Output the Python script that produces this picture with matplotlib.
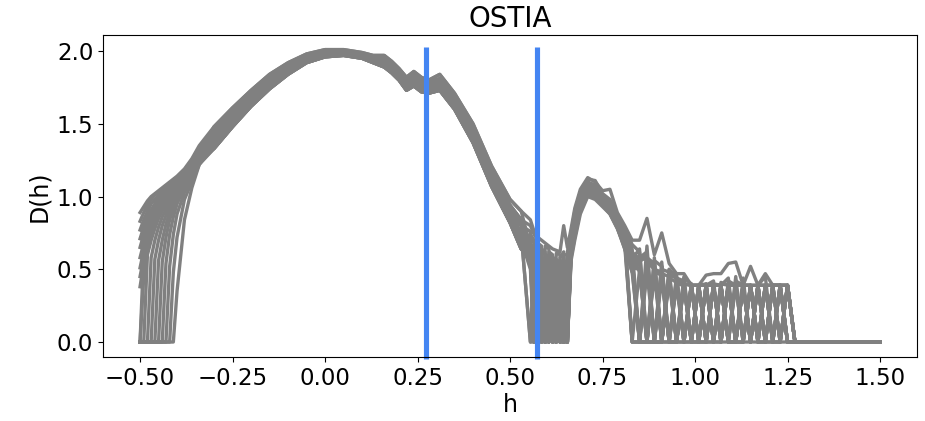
import matplotlib
matplotlib.use("Agg")
import matplotlib.pyplot as plt

# h grid shared by every spectrum, split in four stretches
H_HEAD = [-0.50, -0.49, -0.48, -0.47, -0.46, -0.45, -0.44, -0.43, -0.42, -0.41, -0.40,
          -0.38, -0.36, -0.34]
H_BODY = [-0.30, -0.25, -0.20, -0.15, -0.10, -0.05, 0.00, 0.05, 0.10, 0.13, 0.16, 0.18,
          0.20, 0.22, 0.24, 0.26, 0.28, 0.31, 0.35, 0.40, 0.45, 0.50, 0.53]
H_MID = [0.555, 0.565, 0.575, 0.585, 0.595, 0.605, 0.615, 0.625, 0.635, 0.645, 0.655,
         0.665, 0.675, 0.69, 0.71, 0.73, 0.75, 0.77, 0.79, 0.81, 0.83]
H_TAIL = [0.85, 0.87, 0.89, 0.91, 0.93, 0.95, 0.97, 0.99, 1.01, 1.03, 1.05, 1.07, 1.09,
          1.11, 1.13, 1.15, 1.17, 1.19, 1.21, 1.23, 1.25, 1.27, 1.29, 1.50]

# left part of each D(h) curve
HEAD = [
    [0.89, 0.93, 0.97, 1.00, 1.02, 1.04, 1.06, 1.08, 1.10, 1.12, 1.14, 1.19, 1.26, 1.35],
    [0.83, 0.89, 0.94, 0.98, 1.01, 1.03, 1.05, 1.07, 1.09, 1.11, 1.13, 1.18, 1.25, 1.33],
    [0.77, 0.84, 0.90, 0.95, 0.98, 1.01, 1.03, 1.05, 1.07, 1.09, 1.11, 1.17, 1.24, 1.32],
    [0.71, 0.79, 0.86, 0.91, 0.95, 0.99, 1.01, 1.03, 1.05, 1.07, 1.10, 1.16, 1.23, 1.31],
    [0.65, 0.74, 0.82, 0.88, 0.93, 0.97, 1.00, 1.02, 1.04, 1.06, 1.09, 1.15, 1.22, 1.30],
    [0.58, 0.68, 0.77, 0.84, 0.90, 0.94, 0.98, 1.01, 1.03, 1.05, 1.08, 1.14, 1.21, 1.29],
    [0.51, 0.63, 0.73, 0.81, 0.87, 0.92, 0.96, 0.99, 1.02, 1.04, 1.07, 1.13, 1.20, 1.28],
    [0.45, 0.58, 0.69, 0.78, 0.85, 0.90, 0.95, 0.98, 1.01, 1.03, 1.06, 1.12, 1.19, 1.27],
    [0.38, 0.54, 0.66, 0.75, 0.83, 0.89, 0.94, 0.97, 1.00, 1.03, 1.05, 1.12, 1.19, 1.27],
    [0.00, 0.62, 0.72, 0.80, 0.86, 0.91, 0.95, 0.98, 1.01, 1.03, 1.05, 1.11, 1.18, 1.27],
    [0.00, 0.45, 0.62, 0.72, 0.80, 0.86, 0.91, 0.95, 0.99, 1.02, 1.04, 1.11, 1.18, 1.26],
    [0.00, 0.00, 0.60, 0.70, 0.78, 0.85, 0.90, 0.94, 0.98, 1.01, 1.04, 1.10, 1.17, 1.26],
    [0.00, 0.00, 0.00, 0.58, 0.70, 0.79, 0.86, 0.91, 0.96, 1.00, 1.03, 1.10, 1.17, 1.25],
    [0.00, 0.00, 0.00, 0.00, 0.57, 0.70, 0.80, 0.87, 0.93, 0.98, 1.02, 1.09, 1.16, 1.25],
    [0.00, 0.00, 0.00, 0.00, 0.00, 0.56, 0.70, 0.81, 0.89, 0.95, 1.00, 1.08, 1.15, 1.24],
    [0.00, 0.00, 0.00, 0.00, 0.00, 0.00, 0.55, 0.72, 0.84, 0.92, 0.98, 1.07, 1.14, 1.24],
    [0.00, 0.00, 0.00, 0.00, 0.00, 0.00, 0.00, 0.54, 0.74, 0.86, 0.95, 1.06, 1.13, 1.23],
    [0.00, 0.00, 0.00, 0.00, 0.00, 0.00, 0.00, 0.00, 0.52, 0.74, 0.88, 1.03, 1.12, 1.23],
    [0.00, 0.00, 0.00, 0.00, 0.00, 0.00, 0.00, 0.00, 0.00, 0.48, 0.72, 0.98, 1.10, 1.22],
    [0.00, 0.00, 0.00, 0.00, 0.00, 0.00, 0.00, 0.00, 0.00, 0.00, 0.35, 0.84, 1.06, 1.22],
]

# main arc, six variants from upper to lower edge of the band
BODY_A = [1.48, 1.61, 1.73, 1.84, 1.92, 1.98, 2.01, 2.01, 1.99, 1.97, 1.97, 1.93,
          1.88, 1.82, 1.86, 1.82, 1.80, 1.84, 1.71, 1.50, 1.21, 0.98, 0.90]
BODY_B = [1.45, 1.59, 1.71, 1.82, 1.90, 1.97, 2.00, 2.00, 1.98, 1.96, 1.95, 1.92,
          1.87, 1.80, 1.84, 1.80, 1.79, 1.81, 1.69, 1.47, 1.18, 0.94, 0.84]
BODY_C = [1.42, 1.56, 1.69, 1.80, 1.89, 1.96, 1.99, 2.00, 1.98, 1.95, 1.93, 1.90,
          1.85, 1.79, 1.82, 1.78, 1.77, 1.79, 1.67, 1.45, 1.15, 0.91, 0.80]
BODY_D = [1.39, 1.54, 1.67, 1.78, 1.87, 1.94, 1.98, 1.99, 1.97, 1.94, 1.92, 1.89,
          1.84, 1.77, 1.80, 1.76, 1.75, 1.77, 1.64, 1.42, 1.12, 0.88, 0.75]
BODY_E = [1.36, 1.51, 1.64, 1.76, 1.86, 1.93, 1.97, 1.98, 1.96, 1.93, 1.90, 1.87,
          1.82, 1.75, 1.78, 1.74, 1.73, 1.75, 1.62, 1.40, 1.10, 0.85, 0.70]
BODY_F = [1.33, 1.48, 1.62, 1.74, 1.84, 1.92, 1.96, 1.97, 1.95, 1.92, 1.89, 1.85,
          1.80, 1.73, 1.76, 1.72, 1.71, 1.73, 1.60, 1.37, 1.07, 0.82, 0.64]
BODY = [BODY_A, BODY_B, BODY_C, BODY_D, BODY_E, BODY_F, BODY_A, BODY_B, BODY_C, BODY_D,
        BODY_E, BODY_F, BODY_B, BODY_C, BODY_D, BODY_E, BODY_F, BODY_D, BODY_E, BODY_F]

# dip around h=0.6 and second hump
MID = [
    [0.84, 0.76, 0.72, 0.70, 0.68, 0.66, 0.64, 0.63, 0.62, 0.80, 0.65, 0.78, 0.92, 1.05, 1.13, 1.10, 1.04, 1.05, 0.89, 0.80, 0.70],
    [0.80, 0.74, 0.70, 0.00, 0.66, 0.64, 0.00, 0.61, 0.60, 0.00, 0.62, 0.75, 0.90, 1.03, 1.12, 1.11, 1.02, 0.98, 0.88, 0.78, 0.67],
    [0.76, 0.00, 0.68, 0.66, 0.00, 0.62, 0.60, 0.00, 0.58, 0.62, 0.00, 0.72, 0.88, 1.01, 1.10, 1.08, 1.01, 0.96, 0.87, 0.76, 0.64],
    [0.72, 0.68, 0.00, 0.64, 0.62, 0.00, 0.58, 0.57, 0.00, 0.60, 0.60, 0.70, 0.86, 1.00, 1.09, 1.07, 1.00, 0.95, 0.86, 0.75, 0.62],
    [0.70, 0.00, 0.00, 0.62, 0.60, 0.58, 0.00, 0.56, 0.55, 0.00, 0.58, 0.70, 0.85, 0.99, 1.08, 1.06, 0.99, 0.94, 0.85, 0.74, 0.00],
    [0.68, 0.64, 0.62, 0.00, 0.58, 0.00, 0.56, 0.00, 0.54, 0.56, 0.00, 0.68, 0.84, 0.98, 1.07, 1.05, 0.98, 0.93, 0.84, 0.72, 0.60],
    [0.66, 0.00, 0.60, 0.58, 0.00, 0.55, 0.00, 0.53, 0.00, 0.54, 0.56, 0.62, 0.82, 0.97, 1.06, 1.04, 0.98, 0.92, 0.83, 0.71, 0.58],
    [0.64, 0.60, 0.00, 0.56, 0.00, 0.54, 0.52, 0.00, 0.52, 0.00, 0.55, 0.66, 0.80, 0.96, 1.05, 1.03, 0.97, 0.92, 0.83, 0.70, 0.56],
    [0.62, 0.00, 0.56, 0.00, 0.54, 0.52, 0.00, 0.50, 0.00, 0.52, 0.00, 0.64, 0.80, 0.95, 1.04, 1.02, 0.97, 0.91, 0.82, 0.69, 0.00],
    [0.60, 0.56, 0.00, 0.52, 0.00, 0.50, 0.00, 0.49, 0.50, 0.00, 0.52, 0.60, 0.79, 0.94, 1.03, 1.01, 0.96, 0.91, 0.81, 0.68, 0.55],
    [0.58, 0.00, 0.52, 0.50, 0.00, 0.00, 0.48, 0.00, 0.48, 0.50, 0.00, 0.62, 0.78, 0.93, 1.03, 1.01, 0.96, 0.90, 0.81, 0.67, 0.53],
    [0.56, 0.52, 0.00, 0.48, 0.47, 0.00, 0.46, 0.47, 0.00, 0.48, 0.52, 0.60, 0.76, 0.92, 1.02, 1.00, 0.95, 0.90, 0.80, 0.66, 0.00],
    [0.54, 0.00, 0.48, 0.00, 0.46, 0.45, 0.00, 0.45, 0.46, 0.00, 0.00, 0.60, 0.74, 0.91, 1.02, 1.00, 0.95, 0.89, 0.79, 0.65, 0.52],
    [0.52, 0.48, 0.00, 0.46, 0.00, 0.44, 0.45, 0.00, 0.46, 0.48, 0.00, 0.58, 0.72, 0.90, 1.01, 0.99, 0.94, 0.89, 0.79, 0.64, 0.50],
    [0.00, 0.00, 0.47, 0.00, 0.45, 0.00, 0.44, 0.46, 0.00, 0.00, 0.50, 0.62, 0.78, 0.92, 1.02, 0.99, 0.94, 0.88, 0.78, 0.66, 0.48],
    [0.50, 0.00, 0.00, 0.45, 0.00, 0.44, 0.00, 0.00, 0.45, 0.48, 0.00, 0.56, 0.70, 0.88, 1.00, 0.98, 0.93, 0.88, 0.78, 0.64, 0.48],
    [0.74, 0.70, 0.66, 0.00, 0.00, 0.60, 0.58, 0.56, 0.00, 0.00, 0.58, 0.72, 0.87, 1.00, 1.09, 1.07, 1.00, 0.95, 0.85, 0.73, 0.00],
    [0.00, 0.66, 0.64, 0.62, 0.00, 0.57, 0.00, 0.55, 0.56, 0.00, 0.54, 0.66, 0.83, 0.97, 1.06, 1.03, 0.97, 0.92, 0.83, 0.70, 0.57],
    [0.68, 0.00, 0.58, 0.00, 0.56, 0.00, 0.52, 0.00, 0.51, 0.53, 0.00, 0.64, 0.81, 0.96, 1.05, 1.02, 0.96, 0.90, 0.81, 0.68, 0.54],
    [0.58, 0.54, 0.00, 0.50, 0.00, 0.48, 0.47, 0.00, 0.47, 0.00, 0.00, 0.61, 0.77, 0.92, 1.02, 1.00, 0.95, 0.89, 0.80, 0.66, 0.51],
]

# noisy tail, zero beyond h=1.27
TAIL = [
    [0.70, 0.85, 0.60, 0.75, 0.54, 0.47, 0.47, 0.39, 0.39, 0.46, 0.47, 0.47, 0.54, 0.55, 0.39, 0.52, 0.39, 0.47, 0.39, 0.39, 0.39, 0.00, 0.00, 0.00],
    [0.62, 0.00, 0.58, 0.00, 0.46, 0.00, 0.42, 0.00, 0.39, 0.00, 0.39, 0.00, 0.40, 0.00, 0.39, 0.00, 0.39, 0.00, 0.39, 0.00, 0.39, 0.00, 0.00, 0.00],
    [0.00, 0.66, 0.00, 0.52, 0.00, 0.44, 0.00, 0.39, 0.00, 0.40, 0.00, 0.39, 0.00, 0.45, 0.00, 0.39, 0.00, 0.39, 0.00, 0.39, 0.00, 0.00, 0.00, 0.00],
    [0.56, 0.58, 0.00, 0.50, 0.48, 0.00, 0.40, 0.39, 0.00, 0.39, 0.42, 0.00, 0.39, 0.39, 0.00, 0.39, 0.39, 0.00, 0.39, 0.39, 0.00, 0.00, 0.00, 0.00],
    [0.00, 0.52, 0.55, 0.00, 0.44, 0.41, 0.00, 0.39, 0.39, 0.00, 0.40, 0.39, 0.00, 0.42, 0.39, 0.00, 0.39, 0.39, 0.00, 0.39, 0.39, 0.00, 0.00, 0.00],
    [0.48, 0.00, 0.50, 0.46, 0.00, 0.40, 0.39, 0.00, 0.39, 0.39, 0.00, 0.39, 0.44, 0.00, 0.39, 0.39, 0.00, 0.39, 0.39, 0.00, 0.39, 0.00, 0.00, 0.00],
    [0.00, 0.48, 0.00, 0.00, 0.42, 0.00, 0.39, 0.00, 0.00, 0.39, 0.00, 0.39, 0.00, 0.00, 0.39, 0.00, 0.39, 0.00, 0.00, 0.39, 0.00, 0.00, 0.00, 0.00],
    [0.00, 0.00, 0.46, 0.00, 0.00, 0.39, 0.00, 0.39, 0.00, 0.00, 0.39, 0.00, 0.39, 0.00, 0.00, 0.39, 0.00, 0.39, 0.00, 0.00, 0.39, 0.00, 0.00, 0.00],
    [0.50, 0.00, 0.00, 0.44, 0.00, 0.00, 0.39, 0.00, 0.00, 0.39, 0.00, 0.00, 0.39, 0.00, 0.00, 0.39, 0.00, 0.00, 0.39, 0.00, 0.00, 0.00, 0.00, 0.00],
    [0.00, 0.00, 0.00, 0.00, 0.46, 0.00, 0.00, 0.00, 0.39, 0.00, 0.00, 0.39, 0.00, 0.00, 0.39, 0.00, 0.00, 0.39, 0.00, 0.00, 0.39, 0.00, 0.00, 0.00],
    [0.60, 0.56, 0.52, 0.00, 0.46, 0.44, 0.42, 0.00, 0.39, 0.39, 0.39, 0.00, 0.42, 0.39, 0.39, 0.00, 0.39, 0.39, 0.39, 0.00, 0.39, 0.00, 0.00, 0.00],
    [0.00, 0.55, 0.50, 0.48, 0.00, 0.43, 0.40, 0.39, 0.00, 0.39, 0.39, 0.39, 0.00, 0.40, 0.39, 0.39, 0.00, 0.39, 0.39, 0.39, 0.00, 0.00, 0.00, 0.00],
    [0.54, 0.00, 0.00, 0.47, 0.45, 0.00, 0.00, 0.39, 0.39, 0.00, 0.00, 0.41, 0.39, 0.00, 0.00, 0.39, 0.39, 0.00, 0.00, 0.39, 0.39, 0.00, 0.00, 0.00],
    [0.00, 0.00, 0.48, 0.46, 0.00, 0.00, 0.40, 0.39, 0.00, 0.00, 0.39, 0.39, 0.00, 0.00, 0.39, 0.39, 0.00, 0.00, 0.39, 0.39, 0.00, 0.00, 0.00, 0.00],
    [0.58, 0.62, 0.00, 0.00, 0.47, 0.44, 0.00, 0.00, 0.39, 0.40, 0.00, 0.00, 0.39, 0.39, 0.00, 0.00, 0.39, 0.45, 0.00, 0.00, 0.39, 0.00, 0.00, 0.00],
    [0.00, 0.00, 0.00, 0.00, 0.00, 0.00, 0.39, 0.00, 0.39, 0.00, 0.39, 0.00, 0.39, 0.00, 0.39, 0.00, 0.39, 0.00, 0.39, 0.00, 0.39, 0.00, 0.00, 0.00],
    [0.00, 0.58, 0.54, 0.00, 0.50, 0.00, 0.45, 0.00, 0.00, 0.39, 0.39, 0.00, 0.00, 0.39, 0.00, 0.39, 0.00, 0.39, 0.00, 0.39, 0.00, 0.00, 0.00, 0.00],
    [0.64, 0.00, 0.56, 0.52, 0.00, 0.00, 0.44, 0.40, 0.00, 0.00, 0.39, 0.39, 0.00, 0.00, 0.39, 0.39, 0.00, 0.00, 0.39, 0.39, 0.39, 0.00, 0.00, 0.00],
    [0.55, 0.60, 0.00, 0.55, 0.00, 0.46, 0.00, 0.39, 0.39, 0.00, 0.39, 0.00, 0.41, 0.00, 0.39, 0.00, 0.39, 0.00, 0.39, 0.39, 0.00, 0.00, 0.00, 0.00],
    [0.50, 0.00, 0.52, 0.00, 0.50, 0.45, 0.00, 0.40, 0.00, 0.39, 0.00, 0.40, 0.39, 0.00, 0.44, 0.00, 0.39, 0.39, 0.00, 0.39, 0.00, 0.00, 0.00, 0.00],
]

# vertical markers (h positions) and their vertical extent
H_MARKS = [0.272, 0.574]
MARK_SPAN = [-0.115, 2.03]

TITLE = "OSTIA"
X_LABEL = "h"
Y_LABEL = "D(h)"


def main():
    fig = plt.figure(figsize=(9.25, 4.21), dpi=100)
    ax = fig.add_axes([0.1114, 0.152, 0.880, 0.7637])

    h_all = H_HEAD + H_BODY + H_MID + H_TAIL
    for i in range(len(HEAD)):
        d_all = HEAD[i] + BODY[i] + MID[i] + TAIL[i]
        ax.plot(h_all, d_all, color='gray', linewidth=2.4)

    for hm in H_MARKS:
        ax.plot([hm, hm], MARK_SPAN, color='#4485f2', linewidth=3.7,
                solid_capstyle='butt', clip_on=False)

    ax.set_xlim(-0.6, 1.6)
    ax.set_ylim(-0.103, 2.107)
    ax.set_xticks([-0.5, -0.25, 0.0, 0.25, 0.5, 0.75, 1.0, 1.25, 1.5])
    ax.set_yticks([0.0, 0.5, 1.0, 1.5, 2.0])
    ax.tick_params(labelsize=16.5)
    ax.set_title(TITLE, fontsize=20)
    ax.set_xlabel(X_LABEL, fontsize=17, labelpad=2)
    ax.set_ylabel(Y_LABEL, fontsize=17, labelpad=4)

    fig.savefig("out.png", dpi=100)
    plt.close(fig)


main()
